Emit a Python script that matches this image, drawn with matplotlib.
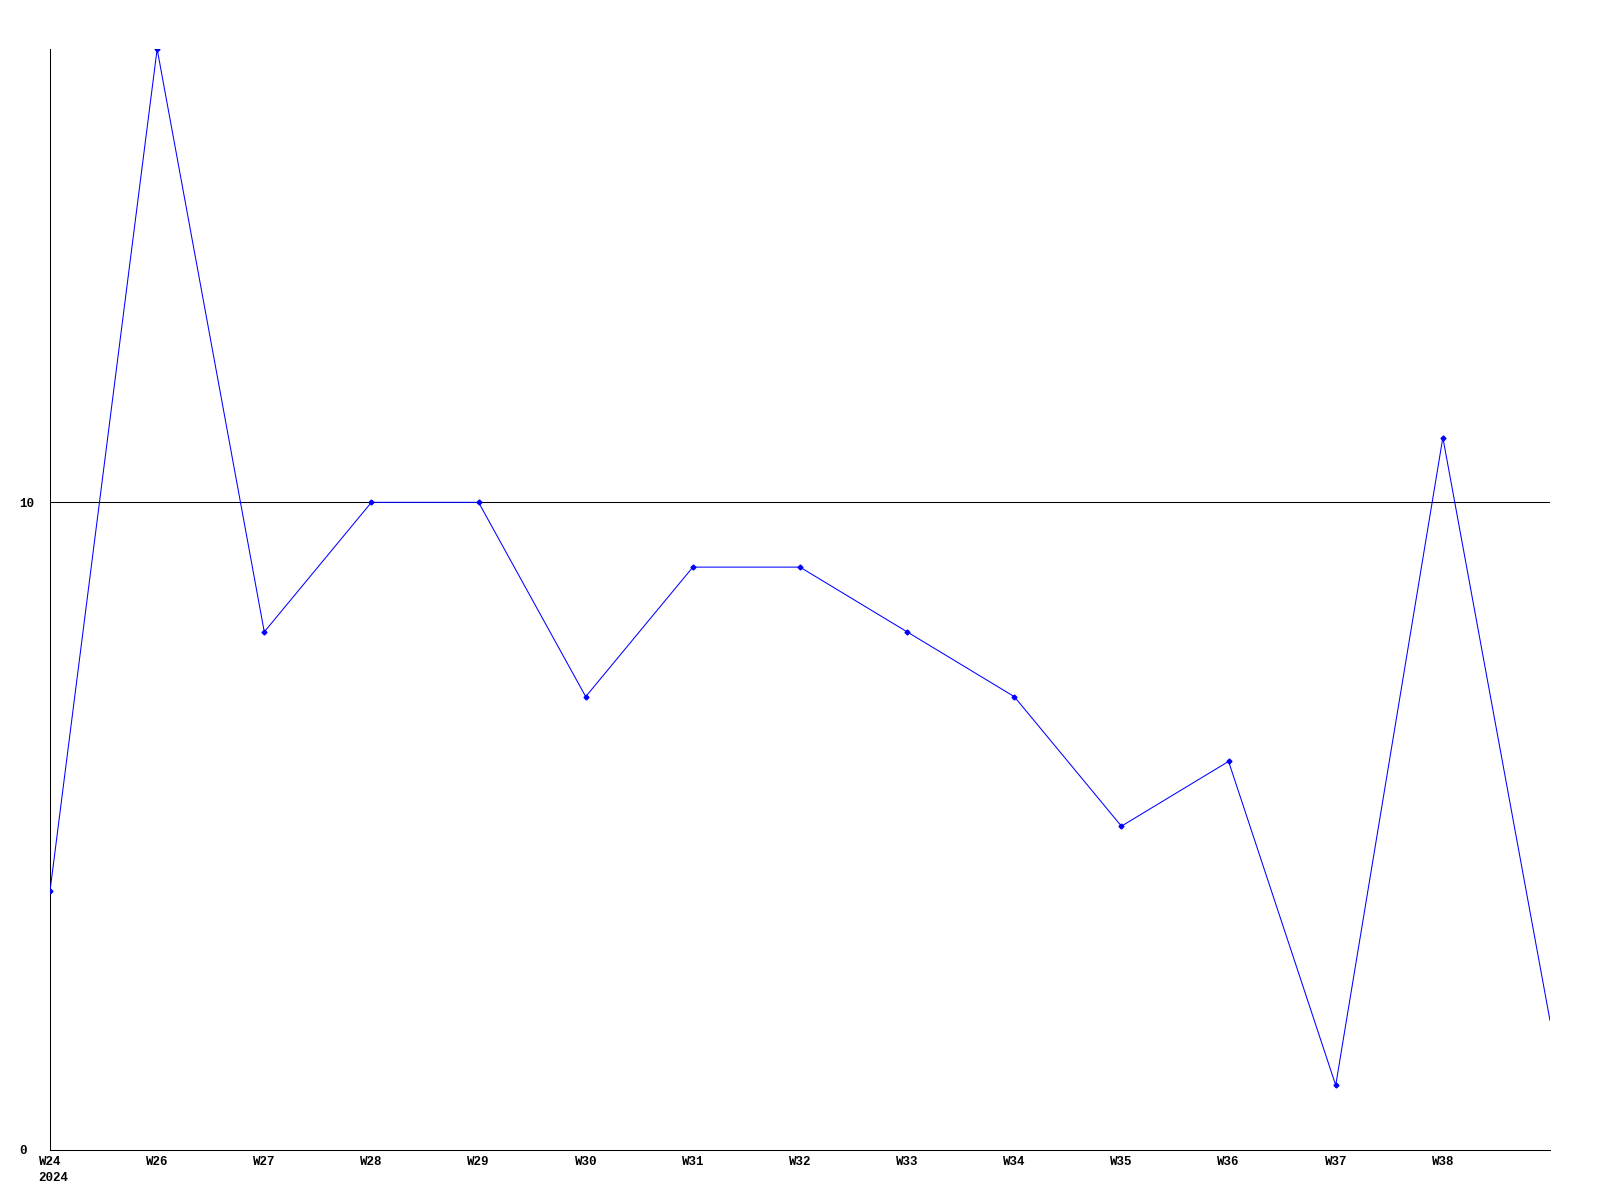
import matplotlib
matplotlib.use("Agg")
import matplotlib.pyplot as plt

weeks = ["W24", "W26", "W27", "W28", "W29", "W30", "W31", "W32",
         "W33", "W34", "W35", "W36", "W37", "W38", ""]
year_label = "2024"
values = [4, 17, 8, 10, 10, 7, 9, 9, 8, 7, 5, 6, 1, 11, 2]
ytick_vals = [0, 10]

FONT = ["Liberation Mono", "DejaVu Sans Mono"]

fig = plt.figure(figsize=(16, 12), dpi=100)
ax = fig.add_axes([50/1600, 1 - 1150/1200, 1500/1600, (1150-49)/1200])

x = list(range(len(values)))
ax.axhline(10, color="black", linewidth=0.75, zorder=1)
ax.plot(x, values, color="#0000ff", linewidth=0.75, marker="D", markersize=2.5,
        markevery=list(range(len(values) - 1)), zorder=3)

ax.set_xlim(0, len(values) - 1)
ax.set_ylim(0, 17)
ax.set_xticks(x)
ax.set_xticklabels(weeks, fontsize=9, fontweight="bold", family=FONT, va="top")
ax.annotate(year_label, xy=(0, 0), xycoords=("data", "axes fraction"),
            xytext=(-8.3, -15.5), textcoords="offset points", ha="left", va="top",
            fontsize=9, fontweight="bold", family=FONT, annotation_clip=False)
ax.set_yticks(ytick_vals)
ax.set_yticklabels([str(v) for v in ytick_vals], fontsize=9, fontweight="bold",
                   family=FONT, ha="left")
ax.tick_params(axis="both", length=0)
ax.tick_params(axis="x", pad=4)
ax.tick_params(axis="y", pad=22)
for s in ["top", "right"]:
    ax.spines[s].set_visible(False)
for s in ["left", "bottom"]:
    ax.spines[s].set_linewidth(0.75)
    ax.spines[s].set_color("black")

fig.savefig("out.png", dpi=100)
